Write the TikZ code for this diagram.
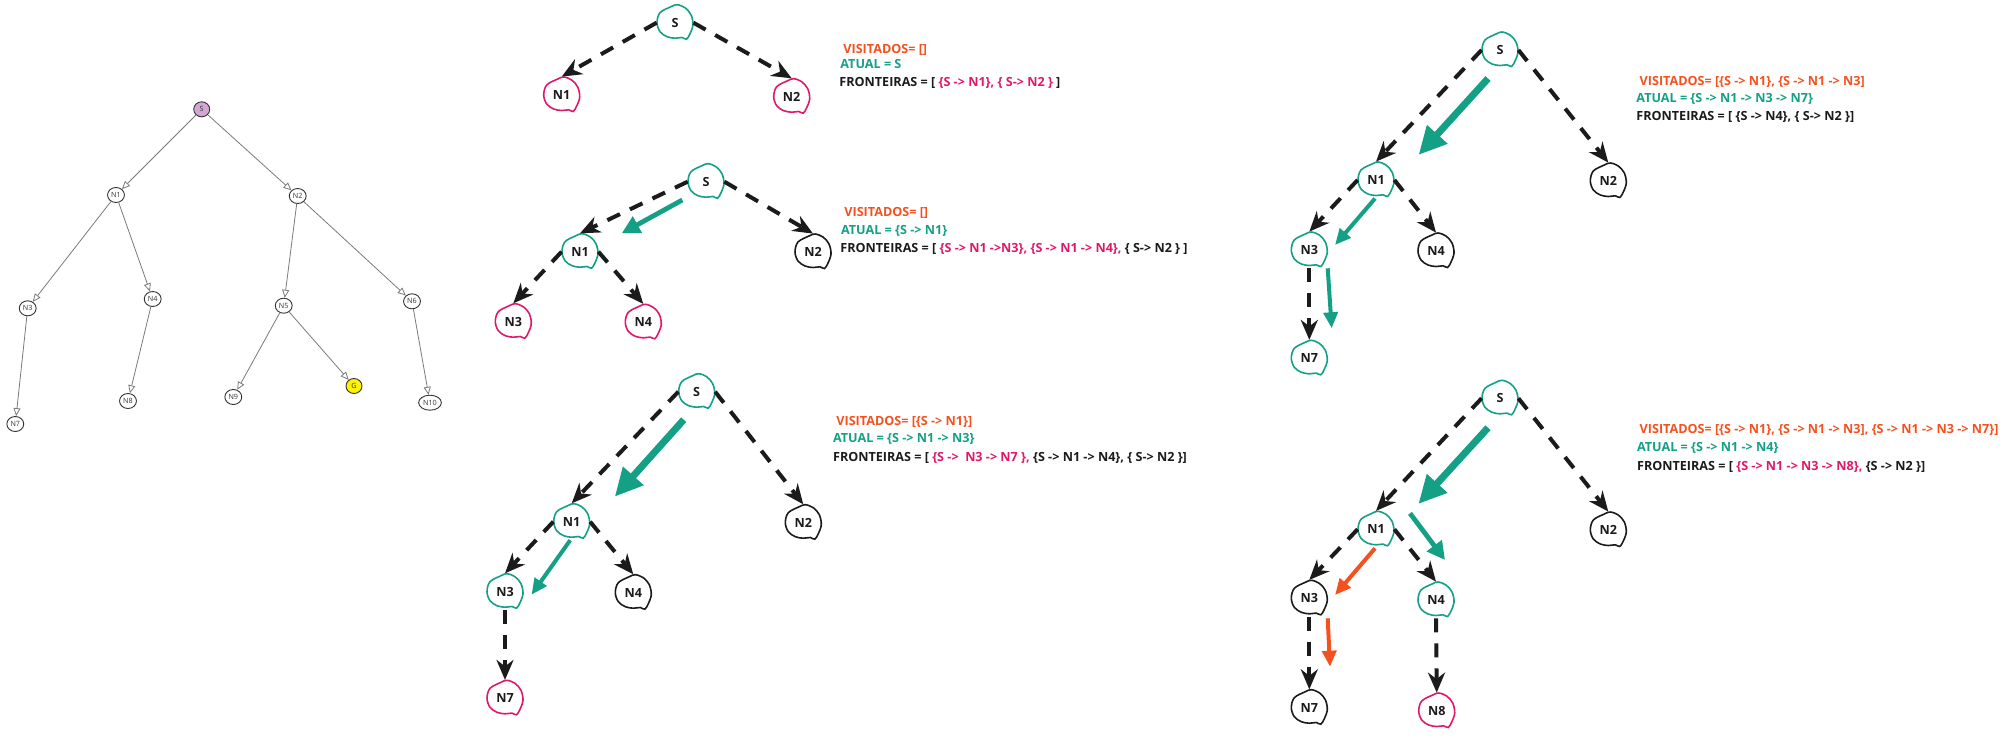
\documentclass[tikz,border=0pt]{standalone}
\usepackage{fontspec}
\setmainfont{Open Sans}
\usetikzlibrary{arrows.meta,calc,shapes.geometric}
\definecolor{ink}{HTML}{1B1B1B}
\definecolor{visited}{HTML}{F4511E}
\definecolor{current}{HTML}{13A085}
\definecolor{border}{HTML}{E0186C}
\definecolor{treeline}{HTML}{7A7A7A}
\definecolor{treenode}{HTML}{333333}
\definecolor{startfill}{HTML}{D2A8D2}
\definecolor{goalfill}{HTML}{FFF200}

% hand drawn state: name, position, colour, label
\newcommand{\blob}[4]{%
  \node[vertex] (#1) at (#2) {#4};
  \draw[blobline, draw=#3, shift={(#1.center)}] plot[smooth cycle, tension=0.55] coordinates {(-4,-16) (2,-18) (10,-15) (16,-8) (18,2) (15,11) (11.5,16.5) (7,14.8) (0,15.5) (-8,14) (-15,9) (-18,0) (-15,-10)};
}

\begin{document}
\begin{tikzpicture}[
  x=0.5pt, y=-0.5pt,
  font=\fontsize{6.3}{8}\selectfont\bfseries,
  vertex/.style={circle, minimum size=18pt, inner sep=0pt, text=ink},
  blobline/.style={line width=0.8pt},
  frontier/.style={draw=ink, line width=2pt, dash pattern=on 7pt off 5.5pt, -{Stealth[length=10pt, width=8.5pt]}},
  walk/.style={draw=current, line width=3.5pt, -{Triangle[length=14pt, width=13pt]}},
  walkmid/.style={draw=current, line width=2.4pt, -{Triangle[length=9pt, width=9pt]}},
  walksmall/.style={draw=current, line width=2pt, -{Triangle[length=8pt, width=7pt]}},
  backtrack/.style={walksmall, draw=visited},
  tnode/.style={ellipse, draw=treenode, line width=0.45pt, inner sep=0.6pt, minimum width=8pt, minimum height=7.5pt, font=\fontsize{3.6}{4}\selectfont\mdseries, text=treenode},
  tedge/.style={draw=treeline, line width=0.4pt, -{Triangle[open, length=4pt, width=3.5pt]}},
  info/.style={anchor=base west, inner sep=0pt}
]
\useasboundingbox (0,0) rectangle (2000,740);

% full search tree
\node[tnode, fill=startfill] (tS) at (201.7,109.3) {S};
\node[tnode] (tN1) at (116,195) {N1};
\node[tnode] (tN2) at (297.7,196) {N2};
\node[tnode] (tN3) at (27.7,308.3) {N3};
\node[tnode] (tN4) at (152.7,299) {N4};
\node[tnode] (tN5) at (283.7,305.7) {N5};
\node[tnode] (tN6) at (412,301.3) {N6};
\node[tnode] (tN7) at (15.3,424) {N7};
\node[tnode] (tN8) at (128,401) {N8};
\node[tnode] (tN9) at (233.3,397) {N9};
\node[tnode, fill=goalfill] (tG) at (354,386) {G};
\node[tnode] (tN10) at (430,402.7) {N10};
\draw[tedge] (tS) -- (tN1);
\draw[tedge] (tS) -- (tN2);
\draw[tedge] (tN1) -- (tN3);
\draw[tedge] (tN1) -- (tN4);
\draw[tedge] (tN2) -- (tN5);
\draw[tedge] (tN2) -- (tN6);
\draw[tedge] (tN3) -- (tN7);
\draw[tedge] (tN4) -- (tN8);
\draw[tedge] (tN5) -- (tN9);
\draw[tedge] (tN5) -- (tG);
\draw[tedge] (tN6) -- (tN10);

% step 1
\blob{aS}{675,22.7}{current}{S}
\blob{aN1}{561.7,95}{border}{N1}
\blob{aN2}{791.7,96.7}{border}{N2}
\draw[frontier] (aS.west) -- (aN1.north);
\draw[frontier] (aS.east) -- (aN2.north);
\node[info, text=visited] (vis1) at (843,53.5) {VISITADOS= []};
\node[info, text=current] (cur1) at (840,68.8) {ATUAL = S};
\node[info, text=ink] (fr1) at (839,86.2) {FRONTEIRAS = [ \textcolor{border}{\{S -> N1\}, \{ S-> N2 \}} ]};

% step 2
\blob{bS}{706,181.7}{current}{S}
\blob{bN1}{580,251.7}{current}{N1}
\blob{bN2}{813,252}{ink}{N2}
\blob{bN3}{513.3,321.7}{border}{N3}
\blob{bN4}{643.3,322.3}{border}{N4}
\draw[frontier] (bS.west) -- (bN1.north);
\draw[frontier] (bS.east) -- (bN2.north);
\draw[frontier] (bN1.west) -- (bN3.north);
\draw[frontier] (bN1.east) -- (bN4.north);
\draw[walkmid] ($(bS)+(-23.7,18.3)$) -- ($(bN1)+(41.7,-18.4)$);
\node[info, text=visited] (vis2) at (844,216.2) {VISITADOS= []};
\node[info, text=current] (cur2) at (840.7,234.5) {ATUAL = \{S -> N1\}};
\node[info, text=ink] (fr2) at (840,252.8) {FRONTEIRAS = [ \textcolor{border}{\{S -> N1 ->N3\}, \{S -> N1 -> N4\},} \{ S-> N2 \} ]};

% step 3
\blob{cS}{696.7,391.7}{current}{S}
\blob{cN1}{571.7,521.7}{current}{N1}
\blob{cN2}{803.3,522.7}{ink}{N2}
\blob{cN3}{505,591.7}{current}{N3}
\blob{cN4}{633.3,592.7}{ink}{N4}
\blob{cN7}{505,698.3}{border}{N7}
\draw[frontier] (cS.west) -- (cN1.north);
\draw[frontier] (cS.east) -- (cN2.north);
\draw[frontier] (cN1.west) -- (cN3.north);
\draw[frontier] (cN1.east) -- (cN4.north);
\draw[frontier] (cN3.south) -- (cN7.north);
\draw[walk] ($(cS)+(-13,28)$) -- ($(cN1)+(43,-25)$);
\draw[walksmall] ($(cN1)+(-1.5,18.5)$) -- ($(cN3)+(26.5,3)$);
\node[info, text=visited] (vis3) at (836,425.5) {VISITADOS= [\{S -> N1\}]};
\node[info, text=current] (cur3) at (832.7,442.8) {ATUAL = \{S -> N1 -> N3\}};
\node[info, text=ink] (fr3) at (832.7,461.2) {FRONTEIRAS = [ \textcolor{border}{\{S ->~~N3 -> N7 \},} \{S -> N1 -> N4\}, \{ S-> N2 \}]};

% step 4
\blob{dS}{1500,50}{current}{S}
\blob{dN1}{1376,180}{current}{N1}
\blob{dN2}{1608.3,181}{ink}{N2}
\blob{dN3}{1309.3,250}{current}{N3}
\blob{dN4}{1436,251}{ink}{N4}
\blob{dN7}{1309.3,358.3}{current}{N7}
\draw[frontier] (dS.west) -- (dN1.north);
\draw[frontier] (dS.east) -- (dN2.north);
\draw[frontier] (dN1.west) -- (dN3.north);
\draw[frontier] (dN1.east) -- (dN4.north);
\draw[frontier] (dN3.south) -- (dN7.north);
\draw[walk] ($(dS)+(-12,28.5)$) -- ($(dN1)+(42.5,-25)$);
\draw[walksmall] ($(dN1)+(-1,18.5)$) -- ($(dN3)+(25.7,-5)$);
\draw[walksmall] ($(dN3)+(18.4,18.3)$) -- ($(dN7)+(22.4,-30)$);
\node[info, text=visited] (vis4) at (1639.3,85.2) {VISITADOS= [\{S -> N1\}, \{S -> N1 -> N3]};
\node[info, text=current] (cur4) at (1636,102.8) {ATUAL = \{S -> N1 -> N3 -> N7\}};
\node[info, text=ink] (fr4) at (1636,120.5) {FRONTEIRAS = [ \{S -> N4\}, \{ S-> N2 \}]};

% step 5
\blob{eS}{1500,398.3}{current}{S}
\blob{eN1}{1376,529.3}{current}{N1}
\blob{eN2}{1608.3,530}{ink}{N2}
\blob{eN3}{1309.3,598.3}{ink}{N3}
\blob{eN4}{1436,600}{current}{N4}
\blob{eN7}{1309.3,707.7}{ink}{N7}
\blob{eN8}{1436.7,711}{border}{N8}
\draw[frontier] (eS.west) -- (eN1.north);
\draw[frontier] (eS.east) -- (eN2.north);
\draw[frontier] (eN1.west) -- (eN3.north);
\draw[frontier] (eN1.east) -- (eN4.north);
\draw[frontier] (eN3.south) -- (eN7.north);
\draw[frontier] (eN4.south) -- (eN8.north);
\draw[walk] ($(eS)+(-12,29.4)$) -- ($(eN1)+(42.3,-25.3)$);
\draw[walkmid] ($(eN1)+(34,-16)$) -- ($(eN4)+(9,-40)$);
\draw[backtrack] ($(eN1)+(-1,19)$) -- ($(eN3)+(25.7,-3.3)$);
\draw[backtrack] ($(eN3)+(18.4,20)$) -- ($(eN7)+(20.7,-41)$);
\node[info, text=visited] (vis5) at (1639.3,433.5) {VISITADOS= [\{S -> N1\}, \{S -> N1 -> N3], \{S -> N1 -> N3 -> N7\}]};
\node[info, text=current] (cur5) at (1636.7,451.8) {ATUAL = \{S -> N1 -> N4\}};
\node[info, text=ink] (fr5) at (1636.7,470.2) {FRONTEIRAS = [ \textcolor{border}{\{S -> N1 -> N3 -> N8\},} \{S -> N2 \}]};

\end{tikzpicture}
\end{document}
